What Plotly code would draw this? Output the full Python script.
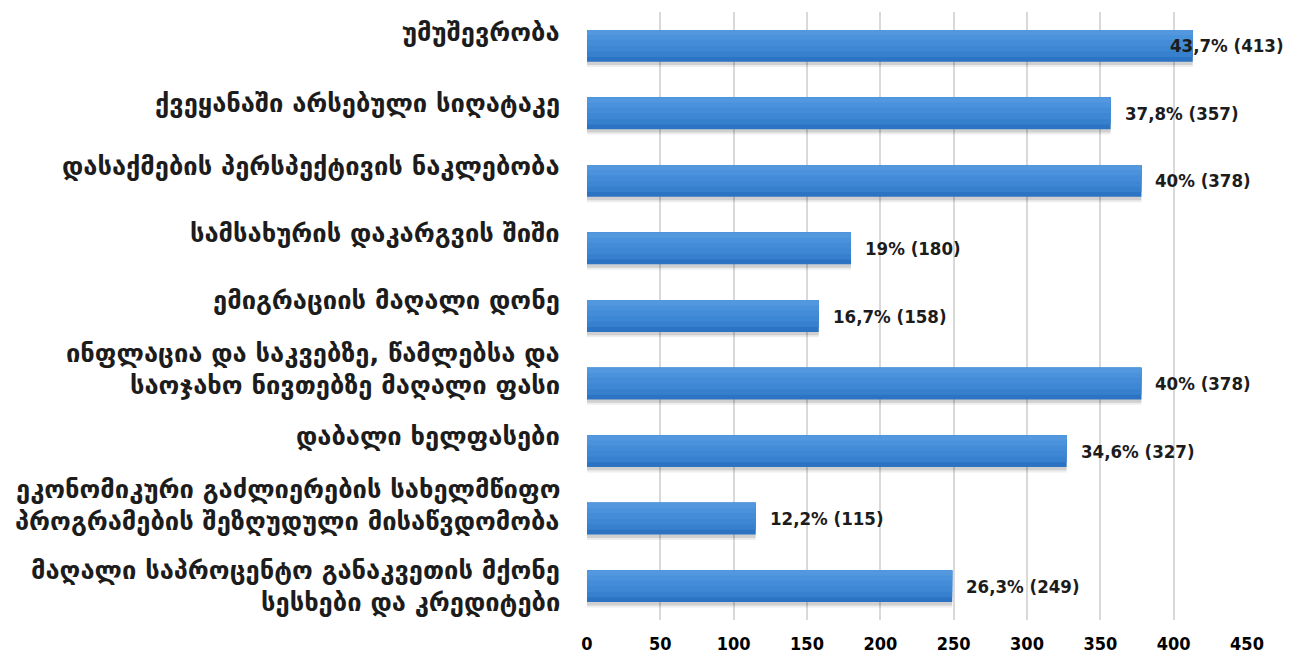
import plotly.graph_objects as go

categories = [
    "უმუშევრობა",
    "ქვეყანაში არსებული სიღატაკე",
    "დასაქმების პერსპექტივის ნაკლებობა",
    "სამსახურის დაკარგვის შიში",
    "ემიგრაციის მაღალი დონე",
    "ინფლაცია და საკვებზე, წამლებსა და|საოჯახო ნივთებზე მაღალი ფასი",
    "დაბალი ხელფასები",
    "ეკონომიკური გაძლიერების სახელმწიფო|პროგრამების შეზღუდული მისაწვდომობა",
    "მაღალი საპროცენტო განაკვეთის მქონე|სესხები და კრედიტები",
]
counts = [413, 357, 378, 180, 158, 378, 327, 115, 249]
percents = ["43,7%", "37,8%", "40%", "19%", "16,7%", "40%", "34,6%", "12,2%", "26,3%"]
x_ticks = [0, 50, 100, 150, 200, 250, 300, 350, 400, 450]

# style settings
label_yshift = [14, 10, 15, 15, 16, 15, 15, 14, 0]
value_xshift = [-22, 15, 15, 15, 15, 15, 15, 15, 15]
BAR_W = 0.47
TOP = -BAR_W / 2

fig = go.Figure()
# soft shadow
for off, col in [(0.08, "rgba(0,0,0,0.07)"), (0.05, "rgba(0,0,0,0.12)")]:
    fig.add_trace(go.Bar(
        x=counts, y=categories, orientation="h", width=BAR_W, offset=TOP + off,
        marker=dict(color=col, line=dict(width=0)), hoverinfo="skip",
    ))
# pseudo-gradient bands (bottom dark -> top light)
for frac, col in [(1.0, "#2D73C3"), (0.85, "#3680CD"), (0.68, "#3D87D4"),
                  (0.5, "#448CD8"), (0.32, "#4B92DC"), (0.16, "#5398DF")]:
    fig.add_trace(go.Bar(
        x=counts, y=categories, orientation="h", width=BAR_W * frac, offset=TOP,
        marker=dict(color=col, line=dict(width=0)), hoverinfo="skip",
    ))

annotations = []
LINE_H = 32
for cat, shift in zip(categories, label_yshift):
    lines = cat.split("|")
    n = len(lines)
    for i, ln in enumerate(lines):
        annotations.append(dict(
            x=0, xref="paper", y=cat, yref="y",
            text=ln, showarrow=False, xanchor="right", yanchor="middle",
            xshift=-25, yshift=shift + ((n - 1) / 2 - i) * LINE_H,
            font=dict(family="DejaVu Sans", size=25.5, color="#1c1c1c", weight="bold"),
        ))

for cat, c, p, xs in zip(categories, counts, percents, value_xshift):
    annotations.append(dict(
        x=c, xref="x", y=cat, yref="y",
        text=f"{p} ({c})", showarrow=False, xanchor="left", yanchor="middle",
        xshift=xs - 3,
        font=dict(family="DejaVu Sans Condensed", size=18.5, color="#1c1c1c", weight="bold"),
    ))

fig.update_layout(
    width=1301, height=662,
    margin=dict(l=587, r=54, t=12, b=42),
    paper_bgcolor="white", plot_bgcolor="white",
    showlegend=False, barmode="overlay",
    annotations=annotations,
)
fig.update_xaxes(
    range=[0, 450], tickvals=x_ticks, showgrid=True, automargin=False,
    gridcolor="#d9d9d9", gridwidth=1.5, zeroline=False,
    showline=False, ticks="", ticklabelstandoff=11,
    tickfont=dict(family="DejaVu Sans Condensed", size=18, color="#000000", weight="bold"),
)
fig.update_yaxes(
    categoryorder="array", categoryarray=categories, automargin=False,
    range=[8.5, -0.5], showticklabels=False, showgrid=False, zeroline=False,
)

fig.write_html("out.html", config={"displayModeBar": False},
               post_script="document.body.style.margin='0px';")
